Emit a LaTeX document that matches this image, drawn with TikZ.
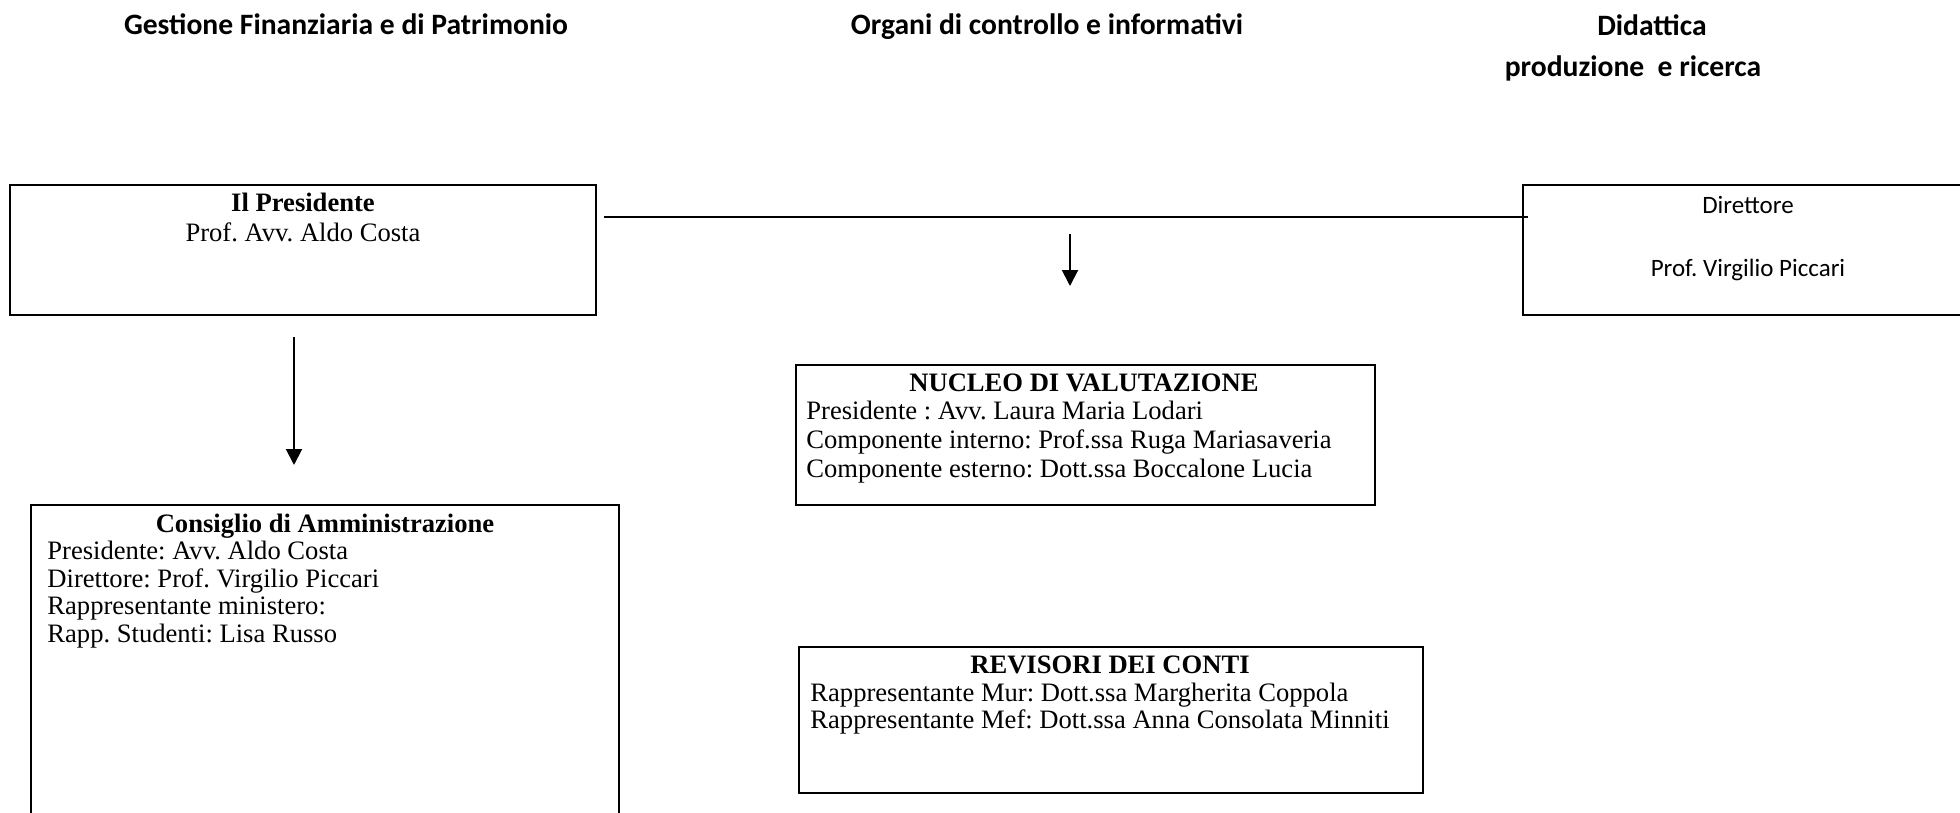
\documentclass[tikz,border=0pt]{standalone}
\usepackage{fontspec}
\setmainfont{Liberation Serif}
\newfontfamily\calibri{Carlito}
\usetikzlibrary{arrows.meta}
\begin{document}
\frenchspacing
\begin{tikzpicture}[x=0.5pt,y=-0.5pt,
  box/.style={draw,line width=1pt,inner sep=0pt,outer sep=0pt,anchor=north west},
  hdr/.style={font=\calibri\bfseries\fontsize{14.8}{17}\selectfont,inner sep=0pt,anchor=mid},
  cal/.style={font=\calibri\fontsize{12.5}{15}\selectfont,inner sep=0pt,anchor=mid},
  ttl/.style={font=\bfseries\fontsize{13.3}{15}\selectfont,inner sep=0pt,anchor=mid},
  txt/.style={font=\fontsize{13.3}{15}\selectfont,inner sep=0pt,anchor=mid west},
  ctr/.style={font=\fontsize{13.3}{15}\selectfont,inner sep=0pt,anchor=mid},
  conn/.style={line width=1pt},
  arr/.style={line width=1pt,-{Triangle[width=8pt,length=8pt]}}]
\useasboundingbox (0,0) rectangle (1960,813);
\clip (0,0) rectangle (1960,813);
% headers
\node[hdr] (h1) at (346,30) {Gestione Finanziaria e di Patrimonio};
\node[hdr] (h2) at (1047,30) {Organi di controllo e informativi};
\node[hdr] (h3) at (1652,31) {Didattica};
\node[hdr] (h4) at (1633,72) {produzione\ \ e ricerca};
% boxes
\node[box,minimum width=293pt,minimum height=65pt] (pres) at (10,185) {};
\node[box,minimum width=226pt,minimum height=65pt] (dir) at (1523,185) {};
\node[box,minimum width=289.5pt,minimum height=70pt] (nuc) at (796,365) {};
\node[box,minimum width=294pt,minimum height=170pt] (cons) at (31,505) {};
\node[box,minimum width=312pt,minimum height=73pt] (rev) at (799,647) {};
% presidente
\node[ttl] (p1) at (303,207) {Il Presidente};
\node[ctr] (p2) at (303,237) {Prof. Avv. Aldo Costa};
% direttore
\node[cal] (d1) at (1748,209) {Direttore};
\node[cal] (d2) at (1748,272) {Prof. Virgilio Piccari};
% nucleo
\node[ttl] (n0) at (1084,387) {NUCLEO DI VALUTAZIONE};
\node[txt] (n1) at (806,415) {Presidente : Avv. Laura Maria Lodari};
\node[txt] (n2) at (806,444) {Componente interno: Prof.ssa Ruga Mariasaveria};
\node[txt] (n3) at (806,473) {Componente esterno: Dott.ssa Boccalone Lucia};
% consiglio
\node[ttl] (c0) at (325,528) {Consiglio di Amministrazione};
\node[txt] (c1) at (47,555) {Presidente: Avv. Aldo Costa};
\node[txt] (c2) at (47,583) {Direttore: Prof. Virgilio Piccari};
\node[txt] (c3) at (47,610) {Rappresentante ministero:};
\node[txt] (c4) at (47,638) {Rapp. Studenti: Lisa Russo};
% revisori
\node[ttl] (r0) at (1110,669) {REVISORI DEI CONTI};
\node[txt] (r1) at (810,697) {Rappresentante Mur: Dott.ssa Margherita Coppola};
\node[txt] (r2) at (810,724) {Rappresentante Mef: Dott.ssa Anna Consolata Minniti};
% connectors
\coordinate (hl) at (604,217);
\coordinate (hr) at (1528,217);
\draw[conn] (hl) -- (hr);
\coordinate (a1s) at (294,337);
\coordinate (a1e) at (294,465);
\draw[arr] (a1s) -- (a1e);
\coordinate (a2s) at (1070,234);
\coordinate (a2e) at (1070,286);
\draw[arr] (a2s) -- (a2e);
\end{tikzpicture}
\end{document}
